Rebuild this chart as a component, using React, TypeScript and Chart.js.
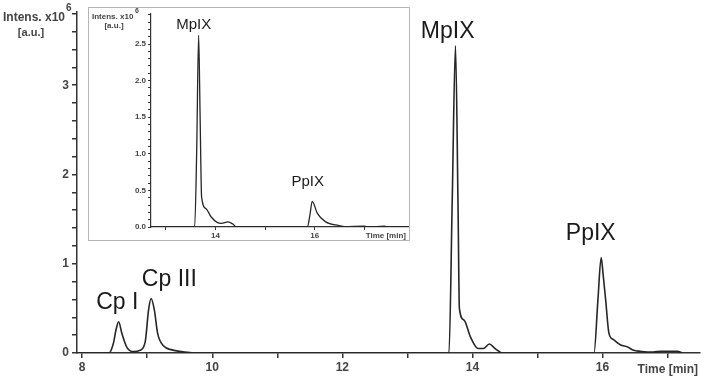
import React, { useEffect, useRef } from "react";
import { Chart, registerables } from "chart.js";

Chart.register(...registerables);

const FONT = "'Liberation Sans', Arial, sans-serif";
const INK = "#262626";

// ---- Main chromatogram (time in min, intensity x10^6 a.u.) ----
const mainTime = [
  7.92, 8.41, 8.48, 8.52, 8.56, 8.61, 8.69, 8.79, 8.89, 8.97, 9.02, 9.06, 9.11, 9.16, 9.25, 9.38, 9.58, 9.79,
  13.64, 13.69, 13.74, 13.78, 13.80, 13.87, 13.97, 14.09, 14.17, 14.26, 14.35, 14.46,
  15.87, 15.93, 15.98, 16.01, 16.05, 16.10, 16.17, 16.28, 16.38, 16.48, 16.58, 16.78, 16.90, 17.15, 17.23,
];
const mainIntensity = [
  0, 0, 0.11, 0.26, 0.35, 0.22, 0.06, 0.015, 0.03, 0.13, 0.48, 0.61, 0.48, 0.22, 0.08, 0.035, 0.01, 0,
  0, 1.71, 3.44, 1.6, 0.5, 0.37, 0.18, 0.05, 0.05, 0.1, 0.05, 0,
  0, 0.59, 1.07, 0.88, 0.59, 0.22, 0.15, 0.09, 0.07, 0.03, 0.02, 0.01, 0.02, 0.02, 0,
];
const mainXTicks = [8, 9, 10, 11, 12, 13, 14, 15, 16, 17];
const mainXLabels = ["8", "", "10", "", "12", "", "14", "", "16", ""];
const mainYTicks = [0, 0.2, 0.4, 0.6, 0.8, 1, 1.2, 1.4, 1.6, 1.8, 2, 2.2, 2.4, 2.6, 2.8, 3, 3.2, 3.4, 3.6, 3.8];
const mainYLabels = ["0", "", "", "", "", "1", "", "", "", "", "2", "", "", "", "", "3", "", "", "", ""];
const mainPeakNames = ["Cp I", "Cp III", "MpIX", "PpIX"];
const mainPeakX = [8.54, 9.34, 13.62, 15.82];
const mainPeakY = [0.56, 0.82, 3.6, 1.34];

// ---- Inset chromatogram ----
const insetTime = [
  12.7, 13.58, 13.62, 13.66, 13.69, 13.72, 13.81, 13.91, 14.04, 14.12, 14.25, 14.35, 14.42,
  15.85, 15.90, 15.95, 16.05, 16.22, 16.49, 16.6, 17.0, 17.1, 17.4, 17.5, 17.88,
];
const insetIntensity = [
  0, 0, 1.0, 2.62, 1.5, 0.41, 0.25, 0.14, 0.06, 0.05, 0.07, 0.04, 0,
  0, 0.15, 0.35, 0.19, 0.07, 0.02, 0.005, 0.01, 0, 0.01, 0, 0,
];
const insetXTicks = [13, 14, 15, 16, 17];
const insetXLabels = ["", "14", "", "16", ""];
const insetYTicks = [
  0, 0.1, 0.2, 0.3, 0.4, 0.5, 0.6, 0.7, 0.8, 0.9, 1.0, 1.1, 1.2, 1.3, 1.4, 1.5, 1.6, 1.7, 1.8, 1.9,
  2.0, 2.1, 2.2, 2.3, 2.4, 2.5, 2.6, 2.7, 2.8, 2.9,
];
const insetYLabels = [
  "0.0", "", "", "", "", "0.5", "", "", "", "", "1.0", "", "", "", "", "1.5", "", "", "", "",
  "2.0", "", "", "", "", "2.5", "", "", "", "",
];
const insetPeakNames = ["MpIX", "PpIX"];
const insetPeakX = [13.56, 15.86];
const insetPeakY = [2.76, 0.61];

function labelFor(values: number[], labels: string[], v: number) {
  const i = values.findIndex((t) => Math.abs(t - v) < 1e-6);
  return i >= 0 ? labels[i] : "";
}

export default function App() {
  const mainRef = useRef<HTMLCanvasElement | null>(null);
  const insetRef = useRef<HTMLCanvasElement | null>(null);

  useEffect(() => {
    const mainCanvas = mainRef.current!;
    const insetCanvas = insetRef.current!;

    const mainText = {
      id: "mainText",
      afterDraw(chart: any) {
        const ctx = chart.ctx;
        const xs = chart.scales.x;
        const ys = chart.scales.y;
        ctx.save();
        ctx.fillStyle = "#1a1a1a";
        ctx.font = `23px ${FONT}`;
        ctx.textAlign = "center";
        ctx.textBaseline = "middle";
        mainPeakNames.forEach((n, i) => {
          ctx.fillText(n, xs.getPixelForValue(mainPeakX[i]), ys.getPixelForValue(mainPeakY[i]));
        });
        ctx.fillStyle = "#444";
        ctx.font = `bold 12px ${FONT}`;
        ctx.textAlign = "left";
        ctx.fillText("Intens. x10", 3, 18);
        ctx.font = `bold 10px ${FONT}`;
        ctx.fillText("6", 66, 8);
        ctx.font = `bold 11px ${FONT}`;
        ctx.textAlign = "center";
        ctx.fillText("[a.u.]", 31, 33);
        ctx.font = `bold 12px ${FONT}`;
        ctx.textAlign = "right";
        ctx.fillText("Time [min]", 698, 370);
        ctx.restore();
      },
    };

    const insetText = {
      id: "insetText",
      beforeDraw(chart: any) {
        const ctx = chart.ctx;
        ctx.save();
        ctx.fillStyle = "#ffffff";
        ctx.fillRect(0, 0, chart.width, chart.height);
        ctx.strokeStyle = "#b5b5b5";
        ctx.lineWidth = 1;
        ctx.strokeRect(0.5, 0.5, chart.width - 1, chart.height - 1);
        ctx.restore();
      },
      afterDraw(chart: any) {
        const ctx = chart.ctx;
        const xs = chart.scales.x;
        const ys = chart.scales.y;
        ctx.save();
        ctx.fillStyle = "#1a1a1a";
        ctx.font = `15px ${FONT}`;
        ctx.textAlign = "center";
        ctx.textBaseline = "middle";
        insetPeakNames.forEach((n, i) => {
          ctx.fillText(n, xs.getPixelForValue(insetPeakX[i]), ys.getPixelForValue(insetPeakY[i]));
        });
        ctx.fillStyle = "#444";
        ctx.font = `bold 8px ${FONT}`;
        ctx.textAlign = "left";
        ctx.fillText("Intens. x10", 4, 10);
        ctx.font = `bold 7px ${FONT}`;
        ctx.fillText("6", 47, 4);
        ctx.font = `bold 8px ${FONT}`;
        ctx.textAlign = "center";
        ctx.fillText("[a.u.]", 26, 19);
        ctx.textAlign = "right";
        ctx.fillText("Time [min]", 318, 229);
        ctx.restore();
      },
    };

    const mainChart = new Chart(mainCanvas, {
      type: "line",
      data: {
        datasets: [
          {
            data: mainTime.map((t, i) => ({ x: t, y: mainIntensity[i] })),
            borderColor: INK,
            borderWidth: 1.6,
            pointRadius: 0,
            cubicInterpolationMode: "monotone",
            fill: false,
          },
        ],
      },
      options: {
        animation: false,
        responsive: false,
        events: [],
        layout: { padding: { left: 0, top: 12, right: 8, bottom: 0 } },
        plugins: { legend: { display: false }, tooltip: { enabled: false } },
        scales: {
          x: {
            type: "linear",
            min: 7.92,
            max: 17.5,
            afterFit: (s: any) => {
              s.height = 30;
            },
            afterBuildTicks: (s: any) => {
              s.ticks = mainXTicks.map((v) => ({ value: v }));
            },
            border: { display: true, color: "#333", width: 1.5 },
            grid: { drawOnChartArea: false, drawTicks: true, tickLength: 5, color: "#333", lineWidth: 1.5 },
            ticks: {
              autoSkip: false,
              maxRotation: 0,
              padding: 2,
              color: "#444",
              font: { family: FONT, size: 12, weight: "bold" },
              callback: (v: any) => labelFor(mainXTicks, mainXLabels, Number(v)),
            },
          },
          y: {
            type: "linear",
            min: 0,
            max: 3.82,
            afterFit: (s: any) => {
              s.width = 77;
            },
            afterBuildTicks: (s: any) => {
              s.ticks = mainYTicks.map((v) => ({ value: v }));
            },
            border: { display: true, color: "#333", width: 1.5 },
            grid: { drawOnChartArea: false, drawTicks: true, tickLength: 5, color: "#333", lineWidth: 1.5 },
            ticks: {
              autoSkip: false,
              padding: 3,
              color: "#444",
              font: { family: FONT, size: 12, weight: "bold" },
              callback: (v: any) => labelFor(mainYTicks, mainYLabels, Number(v)),
            },
          },
        },
      },
      plugins: [mainText],
    } as any);

    const insetChart = new Chart(insetCanvas, {
      type: "line",
      data: {
        datasets: [
          {
            data: insetTime.map((t, i) => ({ x: t, y: insetIntensity[i] })),
            borderColor: INK,
            borderWidth: 1.3,
            pointRadius: 0,
            cubicInterpolationMode: "monotone",
            fill: false,
          },
        ],
      },
      options: {
        animation: false,
        responsive: false,
        events: [],
        layout: { padding: { left: 0, top: 7, right: 2, bottom: 0 } },
        plugins: { legend: { display: false }, tooltip: { enabled: false } },
        scales: {
          x: {
            type: "linear",
            min: 12.7,
            max: 17.88,
            afterFit: (s: any) => {
              s.height = 14;
            },
            afterBuildTicks: (s: any) => {
              s.ticks = insetXTicks.map((v) => ({ value: v }));
            },
            border: { display: true, color: "#333", width: 1.2 },
            grid: { drawOnChartArea: false, drawTicks: true, tickLength: 3, color: "#333", lineWidth: 1 },
            ticks: {
              autoSkip: false,
              maxRotation: 0,
              padding: 1,
              color: "#444",
              font: { family: FONT, size: 8, weight: "bold" },
              callback: (v: any) => labelFor(insetXTicks, insetXLabels, Number(v)),
            },
          },
          y: {
            type: "linear",
            min: 0,
            max: 2.91,
            afterFit: (s: any) => {
              s.width = 63;
            },
            afterBuildTicks: (s: any) => {
              s.ticks = insetYTicks.map((v) => ({ value: v }));
            },
            border: { display: true, color: "#333", width: 1.2 },
            grid: { drawOnChartArea: false, drawTicks: true, tickLength: 3, color: "#333", lineWidth: 1 },
            ticks: {
              autoSkip: false,
              padding: 2,
              color: "#444",
              font: { family: FONT, size: 8, weight: "bold" },
              callback: (v: any) => labelFor(insetYTicks, insetYLabels, Number(v)),
            },
          },
        },
      },
      plugins: [insetText],
    } as any);

    return () => {
      mainChart.destroy();
      insetChart.destroy();
    };
  }, []);

  return (
    <div
      style={{
        position: "fixed",
        left: 0,
        top: 0,
        width: 708,
        height: 383,
        background: "#fff",
        overflow: "hidden",
      }}
    >
      <canvas
        ref={mainRef}
        width={708}
        height={383}
        style={{ position: "absolute", left: 0, top: 0, width: 708, height: 383 }}
      />
      <canvas
        ref={insetRef}
        width={322}
        height={234}
        style={{ position: "absolute", left: 88, top: 7, width: 322, height: 234 }}
      />
    </div>
  );
}
